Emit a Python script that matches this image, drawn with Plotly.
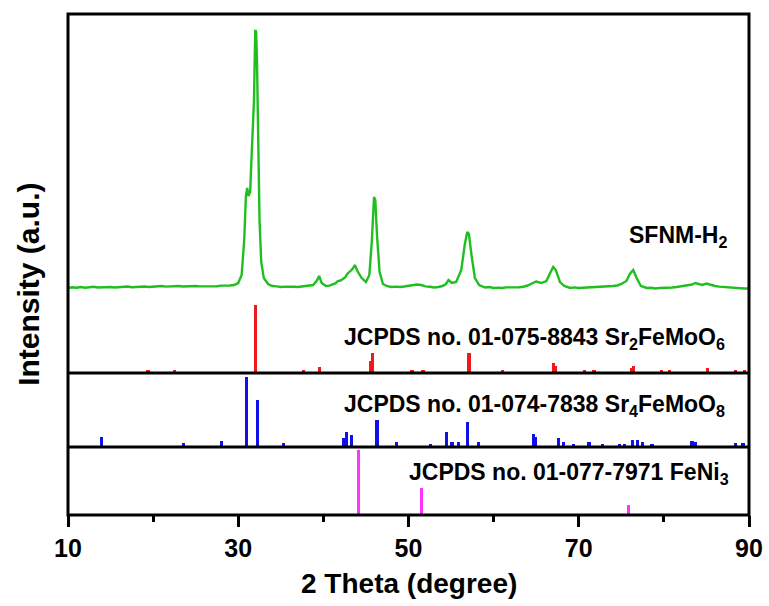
import plotly.graph_objects as go

# ---- measured XRD pattern (SFNM-H2), intensity in a.u. ----
two_theta = [10, 10.5, 11, 11.5, 12, 12.5, 13, 13.5, 14, 14.5, 15, 15.5, 16, 16.5, 17, 17.5, 18, 18.5,
             19, 19.5, 20, 20.5, 21, 21.5, 22, 22.5, 23, 23.5, 24, 24.5, 25, 25.5, 26, 26.5, 27, 27.5,
             28, 28.5, 29, 29.5, 30, 30.4, 30.7, 30.9, 31.05, 31.2, 31.4, 31.55, 31.7, 31.85, 32.0,
             32.1, 32.2, 32.35, 32.5, 32.7, 33.0, 33.5, 34, 34.5, 35, 35.5, 36, 36.5, 37, 37.5, 38,
             38.5, 38.8, 39.2, 39.5, 39.8, 40.3, 40.7, 41, 41.4, 41.7, 42.0, 42.3, 42.6, 42.8, 43.1,
             43.3, 43.5, 43.7, 44.0, 44.5, 45.0, 45.4, 45.7, 45.95, 46.1, 46.3, 46.6, 47.0, 47.5, 48,
             48.5, 49, 49.5, 50, 50.5, 51.0, 51.5, 52, 52.5, 53, 53.5, 54, 54.4, 54.7, 55.1, 55.6, 56.2,
             56.6, 56.9, 57.1, 57.4, 57.8, 58.3, 58.7, 59, 59.5, 60, 60.5, 61, 61.5, 62, 62.5, 63, 63.5,
             64, 64.6, 65.0, 65.6, 66.2, 66.7, 67.0, 67.3, 67.8, 68.3, 68.7, 69, 69.5, 70, 70.5, 71,
             71.5, 72, 72.5, 73, 73.5, 74, 74.5, 75, 75.6, 76.0, 76.4, 76.8, 77.3, 77.7, 78, 78.5, 79,
             79.5, 80, 80.5, 81, 81.5, 82, 82.5, 83, 83.3, 83.7, 84, 84.5, 85, 85.5, 86, 86.5, 87, 87.5,
             88, 88.5, 89, 89.5, 90]
intensity = [850, 858, 853, 860, 852, 857, 862, 855, 857, 863, 860, 855, 857, 864, 865, 858, 860, 866,
             865, 860, 862, 867, 870, 864, 866, 871, 870, 865, 866, 872, 870, 866, 866, 873, 871, 868,
             874, 872, 875, 880, 900, 980, 1330, 1770, 1850, 1770, 1810, 2130, 2510, 2730, 3430,
             3410, 3130, 2330, 1530, 1110, 950, 890, 870, 866, 860, 864, 866, 862, 860, 865, 866,
             870, 880, 920, 970, 900, 870, 874, 880, 895, 920, 925, 940, 960, 990, 1010,
             1030, 1050, 1080, 1020, 950, 910, 980, 1330, 1760, 1730, 1380, 1010, 890, 868, 860,
             864, 860, 865, 870, 876, 885, 880, 866, 862, 855, 860, 870, 890, 930, 900, 910, 1030,
             1280, 1410, 1390, 1180, 950, 880, 866, 855, 860, 850, 854, 850, 856, 855, 860, 858, 863,
             875, 900, 915, 900, 920, 1010, 1060, 1030, 910, 870, 858, 850, 856, 850, 853, 855,
             860, 855, 858, 860, 866, 870, 875, 890, 920, 990, 1030, 950, 870, 858, 850, 853, 845,
             850, 850, 856, 855, 860, 866, 870, 880, 885, 900, 895, 880, 895, 880, 870, 864, 860, 855,
             850, 845, 848, 845, 845]

# ---- JCPDS 01-075-8843 Sr2FeMoO6 reference lines ----
sfmo_pos = [19.4, 22.5, 32.0, 37.7, 39.5, 45.6, 45.8, 50.4, 51.7, 57.1, 61.0, 67.0, 67.2, 70.7,
            71.8, 76.2, 76.4, 79.7, 80.7, 85.1, 88.4, 89.5]
sfmo_int = [4, 4, 100, 4, 9, 18, 30, 4, 4, 30, 4, 15, 10, 4, 4, 7, 10, 4, 4, 8, 4, 4]

# ---- JCPDS 01-074-7838 Sr4FeMoO8 reference lines ----
s4_pos = [13.96, 23.6, 28.05, 31.0, 32.24, 35.3, 42.4, 42.7, 43.3, 46.3, 48.6, 52.6, 54.5, 55.1,
          55.85, 56.9, 58.2, 64.7, 64.9, 67.6, 68.2, 69.4, 71.2, 72.8, 74.8, 75.4, 76.3, 76.9, 77.5,
          78.6, 83.3, 83.7, 88.4, 89.3]
s4_int = [14, 6, 9, 100, 67, 6, 13, 21, 17, 39, 7, 4, 21, 7, 7, 36, 7, 19, 14, 13, 7, 4, 7, 4, 4,
          4, 10, 10, 7, 4, 9, 7, 6, 6]

# ---- JCPDS 01-077-7971 FeNi3 reference lines ----
feni_pos = [44.1, 51.55, 75.8]
feni_int = [100, 42, 15]

x_ticks = [10, 30, 50, 70, 90]

GREEN = "#1fbf1f"
RED = "#f01818"
BLUE = "#1010e8"
MAGENTA = "#ff33ff"
FONT = "Liberation Sans, Arial, sans-serif"

fig = go.Figure()
fig.add_trace(go.Scatter(x=two_theta, y=intensity, mode="lines",
                         line=dict(color=GREEN, width=2.4), xaxis="x", yaxis="y"))
fig.add_trace(go.Bar(x=sfmo_pos, y=sfmo_int, width=0.38, marker=dict(color=RED, line=dict(width=0)),
                     xaxis="x", yaxis="y2"))
fig.add_trace(go.Bar(x=s4_pos, y=s4_int, width=0.38, marker=dict(color=BLUE, line=dict(width=0)),
                     xaxis="x", yaxis="y3"))
fig.add_trace(go.Bar(x=feni_pos, y=feni_int, width=0.38, marker=dict(color=MAGENTA, line=dict(width=0)),
                     xaxis="x", yaxis="y4"))

d_mag = 68 / 501
d_blue = 142 / 501
d_red = 215 / 501

ax_hidden = dict(visible=False, showgrid=False, zeroline=False, fixedrange=True, automargin=False)
fig.update_layout(
    width=769, height=606,
    margin=dict(l=68, r=20, t=14, b=91, autoexpand=False),
    paper_bgcolor="white", plot_bgcolor="white",
    showlegend=False, bargap=0,
    xaxis=dict(range=[10, 90], anchor="y4", tickmode="array", tickvals=x_ticks, automargin=False,
               ticktext=[str(v) for v in x_ticks], ticks="outside", ticklen=11, tickwidth=3,
               tickcolor="black", showline=False, showgrid=False, zeroline=False,
               minor=dict(tickvals=[20, 40, 60, 80], ticks="outside", ticklen=6, tickwidth=3,
                          tickcolor="black", showgrid=False),
               tickfont=dict(family=FONT, size=25, color="black", weight="bold")),
    yaxis=dict(domain=[d_blue, 1], range=[0, 3590], **ax_hidden),
    yaxis2=dict(domain=[d_blue, d_red], range=[0, 107.4], **ax_hidden),
    yaxis3=dict(domain=[d_mag, d_blue], range=[0, 105.7], **ax_hidden),
    yaxis4=dict(domain=[0, d_mag], range=[0, 104.6], **ax_hidden),
)

# frame and panel separators
line = dict(color="black", width=3)
fig.add_shape(type="rect", xref="paper", yref="paper", x0=0, x1=1, y0=0, y1=1, line=line)
fig.add_shape(type="line", xref="paper", yref="paper", x0=0, x1=1, y0=d_mag, y1=d_mag, line=line)
fig.add_shape(type="line", xref="paper", yref="paper", x0=0, x1=1, y0=d_blue, y1=d_blue, line=line)

lab_font = dict(family=FONT, size=23, color="black", weight="bold")
def label(text, xr, yc):
    fig.add_annotation(text=text, xref="paper", yref="paper", x=xr, y=yc, xanchor="right",
                       yanchor="middle", showarrow=False, font=lab_font)

label("SFNM-H<sub>2</sub>", 0.971, 0.555)
label("JCPDS no. 01-075-8843 Sr<sub>2</sub>FeMoO<sub>6</sub>", 0.968, 0.352)
label("JCPDS no. 01-074-7838 Sr<sub>4</sub>FeMoO<sub>8</sub>", 0.968, 0.218)
label("JCPDS no. 01-077-7971 FeNi<sub>3</sub>", 0.974, 0.083)

fig.add_annotation(text="Intensity (a.u.)", xref="paper", yref="paper", x=-0.059, y=0.461,
                   textangle=-90, showarrow=False, xanchor="center", yanchor="middle",
                   font=dict(family=FONT, size=30, color="black", weight="bold"))
fig.add_annotation(text="2 Theta (degree)", xref="paper", yref="paper", x=0.5, y=-0.136,
                   showarrow=False, xanchor="center", yanchor="middle",
                   font=dict(family=FONT, size=28, color="black", weight="bold"))

fig.write_html("out.html", config={"displayModeBar": False},
               post_script="document.body.style.margin='0';")
